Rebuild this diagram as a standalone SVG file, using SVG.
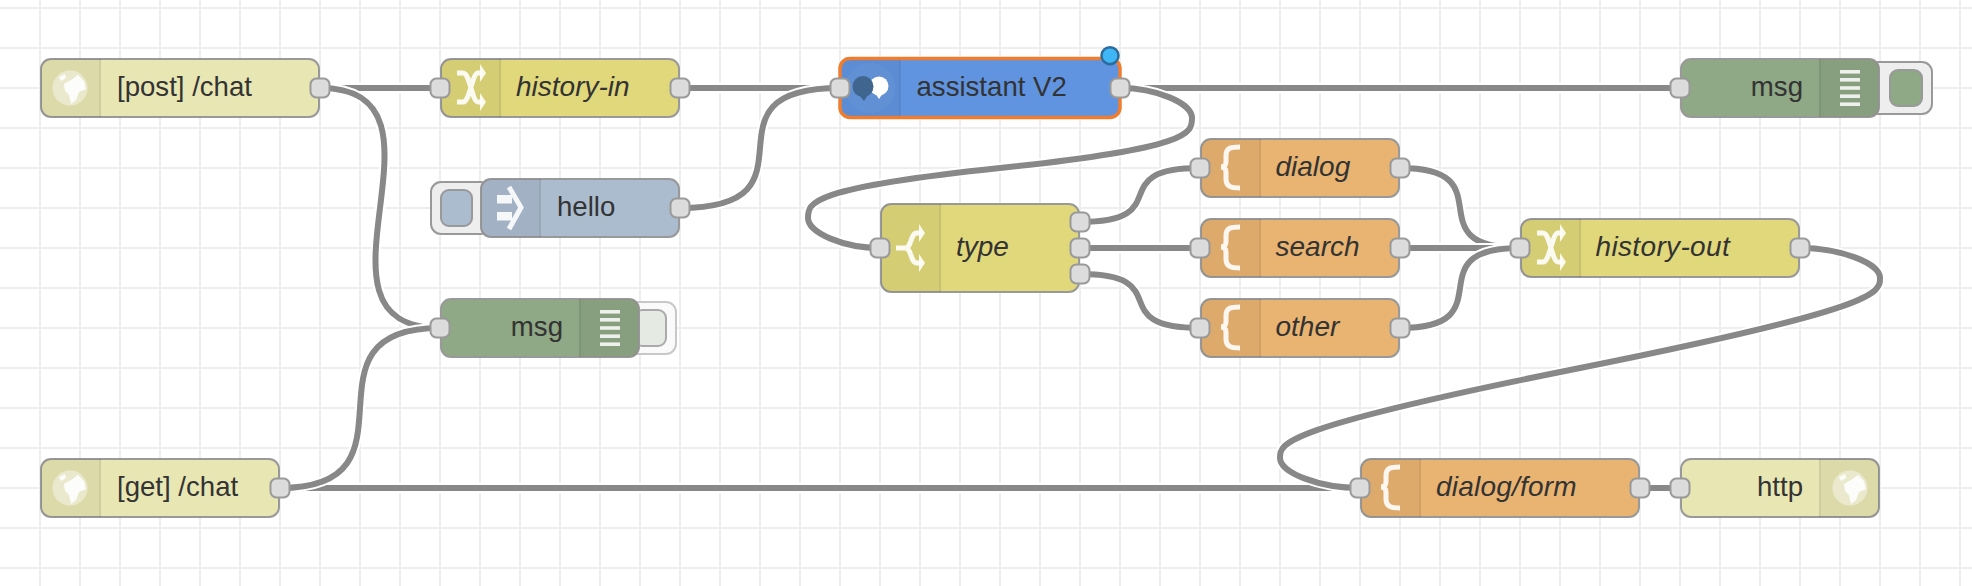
<svg xmlns="http://www.w3.org/2000/svg" width="1972" height="586" viewBox="0 0 1972 586">
<style>
.gl{stroke:#eee;stroke-width:2;fill:none}
.w{fill:none;stroke:#888;stroke-width:6}
.h{fill:none;stroke:#fff;stroke-width:10}
.box{stroke:#999;stroke-width:2}
.http{fill:#e8e6b3}.chg{fill:#e1d87b}.tpl{fill:#e9b471}.dbg{fill:#8fa885}.inj{fill:#abbccf}
.shade{fill:#000;opacity:.05}
.dv{fill:#000;opacity:.06}
.port{fill:#dcdcdc;stroke:#999;stroke-width:2}
.btn{fill:#eee;stroke:#999;stroke-width:2}
text{font-family:"Liberation Sans",Arial,sans-serif;font-size:27.6px;fill:#333}
.it{font-style:italic;font-size:28px}
.end{text-anchor:end}
.ico{fill:none;stroke:#fff;stroke-width:5;opacity:.9;filter:url(#soft)}
.icof{fill:#fff;opacity:.9;filter:url(#soft)}
</style>
<defs>
<filter id="soft" x="-30%" y="-30%" width="160%" height="160%"><feGaussianBlur stdDeviation=".7"/></filter>
<path id="sl" d="M60 0H9A9 9 0 0 0 0 9V49A9 9 0 0 0 9 58H60Z"/>
<path id="sr" d="M0 0H51A9 9 0 0 1 60 9V49A9 9 0 0 1 51 58H0Z"/>
<path id="st" d="M60 0H9A9 9 0 0 0 0 9V79A9 9 0 0 0 9 88H60Z"/>
<g id="globe"><circle r="17.500" fill="#fff" opacity=".42" filter="url(#soft)"/><path class="icof" d="M-6-4L1-8L8-13L14-7L16 1L9 4L6 12L1 16L-1 7L-5 3Z M-11-11L-5-14L-4-10L-9-7Z"/></g>
<g id="shuffle"><path class="ico" d="M-13-15H-7C0-15 2 14 8 14H12M-13 14H-7C0 14 2-15 8-15H12"/><path class="icof" d="M16-15L10-24V-6ZM16 14L10 5V23Z"/></g>
<g id="fork"><path class="ico" d="M-14 0H-5C2 0 0-15 7-15H11M-5 0C2 0 0 15 7 15H11"/><path class="icof" d="M15-15L9-24V-6ZM15 15L9 6V24Z"/></g>
<path id="brace" class="ico" d="M10-21C0-21-4-20-4-12V-6C-4-3-6-1-9-1C-6-1-4 1-4 4V11C-4 18 0 20 10 20"/>
<g id="lines" fill="#fff" opacity=".85" filter="url(#soft)"><rect x="-10" y="-18" width="20" height="3.600"/><rect x="-10" y="-10" width="20" height="3.600"/><rect x="-10" y="-1.800" width="20" height="3.600"/><rect x="-10" y="6.400" width="20" height="3.600"/><rect x="-10" y="14.400" width="20" height="3.600"/></g>
</defs>
<g id="grid">
<path class="gl" d="M0 8H1972M0 48H1972M0 88H1972M0 128H1972M0 168H1972M0 208H1972M0 248H1972M0 288H1972M0 328H1972M0 368H1972M0 408H1972M0 448H1972M0 488H1972M0 528H1972M0 568H1972"/>
<path class="gl" d="M40 0V586M80 0V586M120 0V586M160 0V586M200 0V586M240 0V586M280 0V586M320 0V586M360 0V586M400 0V586M440 0V586M480 0V586M520 0V586M560 0V586M600 0V586M640 0V586M680 0V586M720 0V586M760 0V586M800 0V586M840 0V586M880 0V586M920 0V586M960 0V586M1000 0V586M1040 0V586M1080 0V586M1120 0V586M1160 0V586M1200 0V586M1240 0V586M1280 0V586M1320 0V586M1360 0V586M1400 0V586M1440 0V586M1480 0V586M1520 0V586M1560 0V586M1600 0V586M1640 0V586M1680 0V586M1720 0V586M1760 0V586M1800 0V586M1840 0V586M1880 0V586M1920 0V586M1960 0V586"/>
</g>
<g id="connectors">
<path class="h" d="M320 88H440"/><path class="w" d="M320 88H440"/>
<path class="h" d="M320 88C470 88 290 328 440 328"/><path class="w" d="M320 88C470 88 290 328 440 328"/>
<path class="h" d="M680 88H840"/><path class="w" d="M680 88H840"/>
<path class="h" d="M680 208C830 208 690 88 840 88"/><path class="w" d="M680 208C830 208 690 88 840 88"/>
<path class="h" d="M280 488H1360"/><path class="w" d="M280 488H1360"/>
<path class="h" d="M280 488C430 488 290 328 440 328"/><path class="w" d="M280 488C430 488 290 328 440 328"/>
<path class="h" d="M1120 88H1680"/><path class="w" d="M1120 88H1680"/>
<path class="h" d="M1120 88C1156 88 1192 103 1192 118S1192 148 1000 168S808 203 808 218S844 248 880 248"/><path class="w" d="M1120 88C1156 88 1192 103 1192 118S1192 148 1000 168S808 203 808 218S844 248 880 248"/>
<path class="h" d="M1800 248C1840 248 1880 263 1880 278S1880 308 1580 368S1280 443 1280 458S1320 488 1360 488"/><path class="w" d="M1800 248C1840 248 1880 263 1880 278S1880 308 1580 368S1280 443 1280 458S1320 488 1360 488"/>
<path class="h" d="M1640 488H1680"/><path class="w" d="M1640 488H1680"/>
<path class="h" d="M1080 222C1178.700 222 1101.300 168 1200 168"/><path class="w" d="M1080 222C1178.700 222 1101.300 168 1200 168"/>
<path class="h" d="M1080 248H1200"/><path class="w" d="M1080 248H1200"/>
<path class="h" d="M1080 274C1178.700 274 1101.300 328 1200 328"/><path class="w" d="M1080 274C1178.700 274 1101.300 328 1200 328"/>
<path class="h" d="M1400 168C1508.200 168 1411.800 248 1520 248"/><path class="w" d="M1400 168C1508.200 168 1411.800 248 1520 248"/>
<path class="h" d="M1400 248H1520"/><path class="w" d="M1400 248H1520"/>
<path class="h" d="M1400 328C1508.200 328 1411.800 248 1520 248"/><path class="w" d="M1400 328C1508.200 328 1411.800 248 1520 248"/>
</g>
<g id="node-post-chat">
<rect class="box http" x="41" y="59" width="278" height="58" rx="10"/><use href="#sl" class="shade" x="41" y="59"/><rect class="dv" x="99" y="59" width="2" height="58"/><use href="#globe" x="70" y="88"/>
<text x="117" y="96">[post] /chat</text><rect class="port" x="310.500" y="78.500" width="19" height="19" rx="6"/>
</g>
<g id="node-history-in">
<rect class="box chg" x="441" y="59" width="238" height="58" rx="10"/><use href="#sl" class="shade" x="441" y="59"/><rect class="dv" x="499" y="59" width="2" height="58"/><use href="#shuffle" x="470" y="88"/>
<text class="it" x="516" y="96">history-in</text><rect class="port" x="430.500" y="78.500" width="19" height="19" rx="6"/><rect class="port" x="670.500" y="78.500" width="19" height="19" rx="6"/>
</g>
<g id="node-hello">
<rect class="btn" x="431" y="182" width="60" height="52" rx="10"/><rect class="box inj" x="441" y="190" width="31" height="36" rx="8"/>
<rect class="box inj" x="481" y="179" width="198" height="58" rx="10"/><use href="#sl" class="shade" x="481" y="179"/><rect class="dv" x="539" y="179" width="2" height="58"/>
<g id="inject-icon"><rect class="icof" x="497" y="195" width="15" height="8.500"/><rect class="icof" x="497" y="212" width="15" height="8.500"/><path class="ico" d="M509 187L521 207.500L509 229"/></g>
<text x="557" y="216">hello</text><rect class="port" x="670.500" y="198.500" width="19" height="19" rx="6"/>
</g>
<g id="node-debug-lower">
<rect x="620" y="302" width="56" height="52" rx="10" fill="#fafafa" stroke="#c8c8c8" stroke-width="2"/><rect x="634" y="310" width="32" height="36" rx="8" fill="#e5ebe2" stroke="#aaa" stroke-width="2"/>
<rect class="box dbg" x="441" y="299" width="198" height="58" rx="10"/><use href="#sr" class="shade" x="579" y="299"/><rect class="dv" x="579" y="299" width="2" height="58"/><use href="#lines" x="610" y="328"/>
<text class="end" x="563" y="336">msg</text><rect class="port" x="430.500" y="318.500" width="19" height="19" rx="6"/>
</g>
<g id="node-get-chat">
<rect class="box http" x="41" y="459" width="238" height="58" rx="10"/><use href="#sl" class="shade" x="41" y="459"/><rect class="dv" x="99" y="459" width="2" height="58"/><use href="#globe" x="70" y="488"/>
<text x="117" y="496">[get] /chat</text><rect class="port" x="270.500" y="478.500" width="19" height="19" rx="6"/>
</g>
<g id="node-assistant">
<rect x="840" y="58.500" width="280" height="59" rx="10" fill="#6094e0" stroke="#ee7d30" stroke-width="3.500"/><path class="shade" d="M900 60H850A8 8 0 0 0 842 68V108A8 8 0 0 0 850 116H900Z"/><rect class="dv" x="899" y="60" width="2" height="56"/>
<circle cx="870" cy="88" r="25" fill="#fff" opacity=".04"/>
<g id="assistant-icon" filter="url(#soft)"><circle cx="879" cy="86" r="9.500" fill="#fff"/><path d="M875 93L879 99L883 93Z" fill="#fff"/><circle cx="863" cy="86.500" r="10.500" fill="#3f6690"/><path d="M859 95L864 101L868 95Z" fill="#3f6690"/></g>
<text x="916.500" y="96">assistant V2</text>
<rect class="port" x="830.500" y="78.500" width="19" height="19" rx="6"/><rect class="port" x="1110.500" y="78.500" width="19" height="19" rx="6"/>
<circle id="status-dot" cx="1110" cy="55.700" r="8.500" fill="#3fb6f5" stroke="#2c6c9c" stroke-width="2.500"/>
</g>
<g id="node-debug-upper">
<rect class="btn" x="1860" y="62" width="72" height="52" rx="10"/><rect class="box dbg" x="1890" y="70" width="32" height="36" rx="8"/>
<rect class="box dbg" x="1681" y="59" width="198" height="58" rx="10"/><use href="#sr" class="shade" x="1819" y="59"/><rect class="dv" x="1819" y="59" width="2" height="58"/><use href="#lines" x="1850" y="88"/>
<text class="end" x="1803" y="96">msg</text><rect class="port" x="1670.500" y="78.500" width="19" height="19" rx="6"/>
</g>
<g id="node-type">
<rect class="box chg" x="881" y="204" width="198" height="88" rx="10"/><use href="#st" class="shade" x="881" y="204"/><rect class="dv" x="939" y="204" width="2" height="88"/><use href="#fork" x="910" y="248"/>
<text class="it" x="956" y="256">type</text>
<rect class="port" x="870.500" y="238.500" width="19" height="19" rx="6"/><rect class="port" x="1070.500" y="212.500" width="19" height="19" rx="6"/><rect class="port" x="1070.500" y="238.500" width="19" height="19" rx="6"/><rect class="port" x="1070.500" y="264.500" width="19" height="19" rx="6"/>
</g>
<g id="node-dialog">
<rect class="box tpl" x="1201" y="139" width="198" height="58" rx="10"/><use href="#sl" class="shade" x="1201" y="139"/><rect class="dv" x="1259" y="139" width="2" height="58"/><use href="#brace" x="1230" y="168"/>
<text class="it" x="1275.500" y="176">dialog</text><rect class="port" x="1190.500" y="158.500" width="19" height="19" rx="6"/><rect class="port" x="1390.500" y="158.500" width="19" height="19" rx="6"/>
</g>
<g id="node-search">
<rect class="box tpl" x="1201" y="219" width="198" height="58" rx="10"/><use href="#sl" class="shade" x="1201" y="219"/><rect class="dv" x="1259" y="219" width="2" height="58"/><use href="#brace" x="1230" y="248"/>
<text class="it" x="1275.500" y="256">search</text><rect class="port" x="1190.500" y="238.500" width="19" height="19" rx="6"/><rect class="port" x="1390.500" y="238.500" width="19" height="19" rx="6"/>
</g>
<g id="node-other">
<rect class="box tpl" x="1201" y="299" width="198" height="58" rx="10"/><use href="#sl" class="shade" x="1201" y="299"/><rect class="dv" x="1259" y="299" width="2" height="58"/><use href="#brace" x="1230" y="328"/>
<text class="it" x="1275.500" y="336">other</text><rect class="port" x="1190.500" y="318.500" width="19" height="19" rx="6"/><rect class="port" x="1390.500" y="318.500" width="19" height="19" rx="6"/>
</g>
<g id="node-history-out">
<rect class="box chg" x="1521" y="219" width="278" height="58" rx="10"/><use href="#sl" class="shade" x="1521" y="219"/><rect class="dv" x="1579" y="219" width="2" height="58"/><use href="#shuffle" x="1550" y="248"/>
<text class="it" x="1595.500" y="256" letter-spacing=".35">history-out</text><rect class="port" x="1510.500" y="238.500" width="19" height="19" rx="6"/><rect class="port" x="1790.500" y="238.500" width="19" height="19" rx="6"/>
</g>
<g id="node-dialog-form">
<rect class="box tpl" x="1361" y="459" width="278" height="58" rx="10"/><use href="#sl" class="shade" x="1361" y="459"/><rect class="dv" x="1419" y="459" width="2" height="58"/><use href="#brace" x="1390" y="488"/>
<text class="it" x="1436" y="496" letter-spacing=".2">dialog/form</text><rect class="port" x="1350.500" y="478.500" width="19" height="19" rx="6"/><rect class="port" x="1630.500" y="478.500" width="19" height="19" rx="6"/>
</g>
<g id="node-http">
<rect class="box http" x="1681" y="459" width="198" height="58" rx="10"/><use href="#sr" class="shade" x="1819" y="459"/><rect class="dv" x="1819" y="459" width="2" height="58"/><use href="#globe" x="1850" y="488"/>
<text class="end" x="1803" y="496">http</text><rect class="port" x="1670.500" y="478.500" width="19" height="19" rx="6"/>
</g>
</svg>
